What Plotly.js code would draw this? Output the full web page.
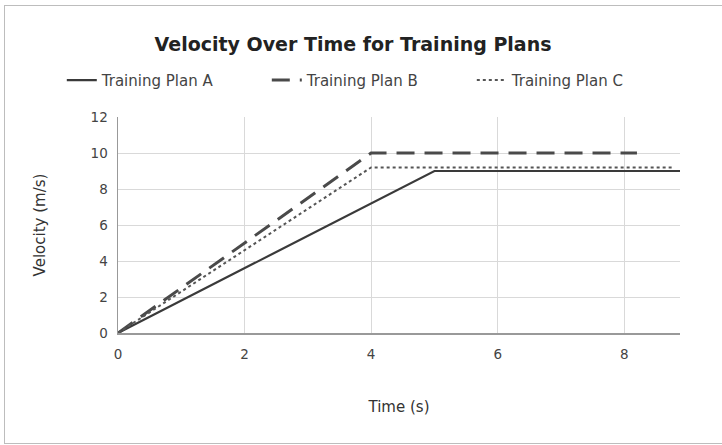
<!DOCTYPE html>
<html>
<head>
<meta charset="utf-8">
<script src="https://cdn.plot.ly/plotly-3.0.1.min.js"></script>
<style>
html,body{margin:0;padding:0;background:#fff;}
#wrap{position:relative;width:722px;height:445px;}
#frame{position:absolute;left:4px;top:5px;width:740px;height:439px;border:1px solid #bdbdbd;box-sizing:border-box;pointer-events:none;}
#chart{position:absolute;left:0;top:0;width:722px;height:445px;}
</style>
</head>
<body>
<div id="wrap"><div id="chart"></div><div id="frame"></div></div>
<script>
var timeA = [0, 5, 8.88];
var velA  = [0, 9, 9];
var timeB = [0, 4, 8.2];
var velB  = [0, 10, 10];
var timeC = [0, 4, 8.75];
var velC  = [0, 9.2, 9.2];
var names = ['Training Plan A', 'Training Plan B', 'Training Plan C'];
var xTicks = [0, 2, 4, 6, 8];
var yTicks = [0, 2, 4, 6, 8, 10, 12];

var traces = [
  {x: timeA, y: velA, name: names[0], mode: 'lines', line: {color: '#3a3a3a', width: 2.2, dash: 'solid'}},
  {x: timeB, y: velB, name: names[1], mode: 'lines', line: {color: '#4a4a4a', width: 3, dash: '18px,10px'}},
  {x: timeC, y: velC, name: names[2], mode: 'lines', line: {color: '#555555', width: 2, dash: 'dot'}}
];

var FONT = 'DejaVu Sans, Liberation Sans, Arial, sans-serif';
var layout = {
  width: 722, height: 445,
  paper_bgcolor: 'rgba(0,0,0,0)', plot_bgcolor: '#fff',
  margin: {l: 118, r: 42, t: 117, b: 112},
  font: {family: FONT, color: '#444', size: 13},
  title: {text: '<b>Velocity Over Time for Training Plans</b>', x: 0.489, xanchor: 'center', xref: 'container',
          y: 0.9, yanchor: 'middle', yref: 'container', font: {family: FONT, size: 19, color: '#222'}},
  showlegend: true,
  legend: {orientation: 'h', x: -0.1, xanchor: 'left', y: 1.17, yanchor: 'middle',
           entrywidth: 160, entrywidthmode: 'pixels',
           font: {family: FONT, size: 15, color: '#444'}, itemwidth: 30, tracegroupgap: 0},
  xaxis: {range: [0, 8.88], tickvals: xTicks, ticktext: xTicks.map(String), showgrid: true, gridcolor: '#d9d9d9',
          zeroline: false, showline: true, linecolor: '#999', linewidth: 1.5, ticks: '',
          ticklabelstandoff: 8,
          tickfont: {family: FONT, size: 13.5, color: '#444'},
          title: {text: 'Time (s)', font: {family: FONT, size: 15, color: '#333'}, standoff: 41}},
  yaxis: {range: [0, 12], tickvals: yTicks, showgrid: true, gridcolor: '#d9d9d9',
          zeroline: false, showline: true, linecolor: '#999', linewidth: 1.5, ticks: '',
          ticklabelstandoff: 6,
          tickfont: {family: FONT, size: 13.5, color: '#444'},
          title: {text: 'Velocity (m/s)', font: {family: FONT, size: 15, color: '#333'}, standoff: 41}}
};

Plotly.newPlot('chart', traces, layout, {displayModeBar: false, staticPlot: true});
</script>
</body>
</html>
